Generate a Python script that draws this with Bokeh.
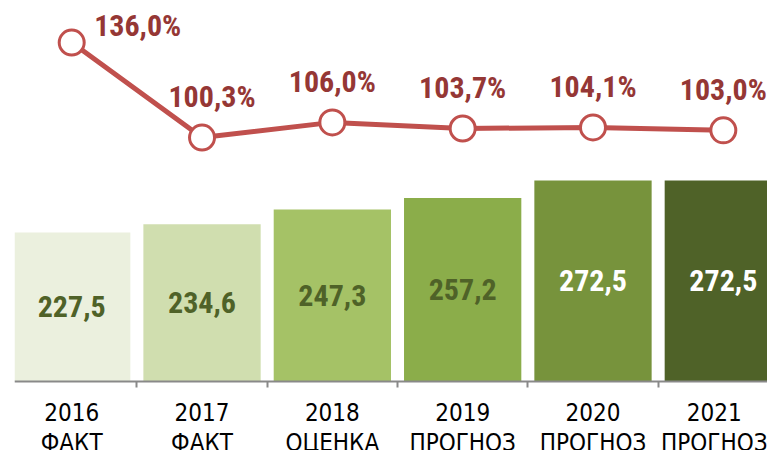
from bokeh.plotting import figure
from bokeh.models import Range1d, LinearAxis, FixedTicker, ColumnDataSource
from bokeh.core.properties import value
from bokeh.embed import file_html
from bokeh.resources import INLINE

# ---- data ----
years = ["2016", "2017", "2018", "2019", "2020", "2021"]
stages = ["ФАКТ", "ФАКТ", "ОЦЕНКА", "ПРОГНОЗ", "ПРОГНОЗ", "ПРОГНОЗ"]
volumes = [227.5, 234.6, 247.3, 257.2, 272.5, 272.5]
growth = [136.0, 100.3, 106.0, 103.7, 104.1, 103.0]

# ---- styles ----
bar_colors = ["#EBF0DE", "#D0DEAF", "#A5C266", "#8BAD4A", "#77933C", "#4F6228"]
bar_label_colors = ["#4F6228", "#4F6228", "#4F6228", "#4F6228", "#FFFFFF", "#FFFFFF"]
line_color = "#C0504D"
pct_color = "#953735"
pct_dx = [66, 10, 0, 0, 0, 0]
pct_dy = [-17, -41, -41, -41, -41, -41]
bold_font = value("Roboto Condensed, Roboto")

BASE = 98.5
pos = list(range(len(years)))

src = ColumnDataSource(dict(
    x=pos,
    v=volumes,
    mid=[(BASE + v) / 2 for v in volumes],
    vlab=[f"{v:.1f}".replace(".", ",") for v in volumes],
    color=bar_colors,
    lcolor=bar_label_colors,
    g=growth,
    glab=[f"{g:.1f}%".replace(".", ",") for g in growth],
    dx=pct_dx,
    dy=pct_dy,
))

p = figure(width=767, height=450, output_backend="svg", toolbar_location=None,
           x_range=Range1d(-0.4389, 5.339), y_range=Range1d(38.8, 428.2),
           x_axis_location=None, y_axis_location=None, min_border=0)
p.min_border_left = 14
p.grid.visible = False
p.outline_line_color = None
p.background_fill_color = "white"
p.border_fill_color = "white"

p.extra_y_ranges = {"g": Range1d(-17.3, 151.8)}

p.vbar(x="x", top="v", bottom=BASE, width=0.9, fill_color="color", line_color=None, source=src)
p.text(x="x", y="mid", text="vlab", text_color="lcolor", text_align="center",
       text_baseline="middle", text_font=bold_font,
       text_font_style="bold", text_font_size="30px", source=src)

p.line(x="x", y="g", y_range_name="g", line_color=line_color, line_width=5, source=src)
p.scatter(x="x", y="g", y_range_name="g", size=25, fill_color="white",
          line_color=line_color, line_width=3, source=src)
p.text(x="x", y="g", y_range_name="g", text="glab", x_offset="dx", y_offset="dy",
       text_color=pct_color, text_align="center", text_baseline="middle",
       text_font=bold_font, text_font_style="bold",
       text_font_size="30px", source=src)

xaxis = LinearAxis(fixed_location=BASE,
                   ticker=FixedTicker(ticks=pos, minor_ticks=[i - 0.5 for i in range(len(years) + 1)]))
xaxis.major_label_overrides = {i: f"{years[i]}\n{stages[i]}" for i in pos}
xaxis.axis_line_color = "#898989"
xaxis.axis_line_width = 2
xaxis.major_tick_in = 0
xaxis.major_tick_out = 0
xaxis.minor_tick_in = 0
xaxis.minor_tick_out = 6
xaxis.minor_tick_line_color = "#898989"
xaxis.minor_tick_line_width = 2
xaxis.major_label_standoff = 11
xaxis.major_label_text_font = "DejaVu Sans Condensed"
xaxis.major_label_text_font_size = "24px"
xaxis.major_label_text_color = "#000000"
xaxis.major_label_text_line_height = 1.1
p.add_layout(xaxis, "below")

open("out.html", "w").write(file_html(p, INLINE))
